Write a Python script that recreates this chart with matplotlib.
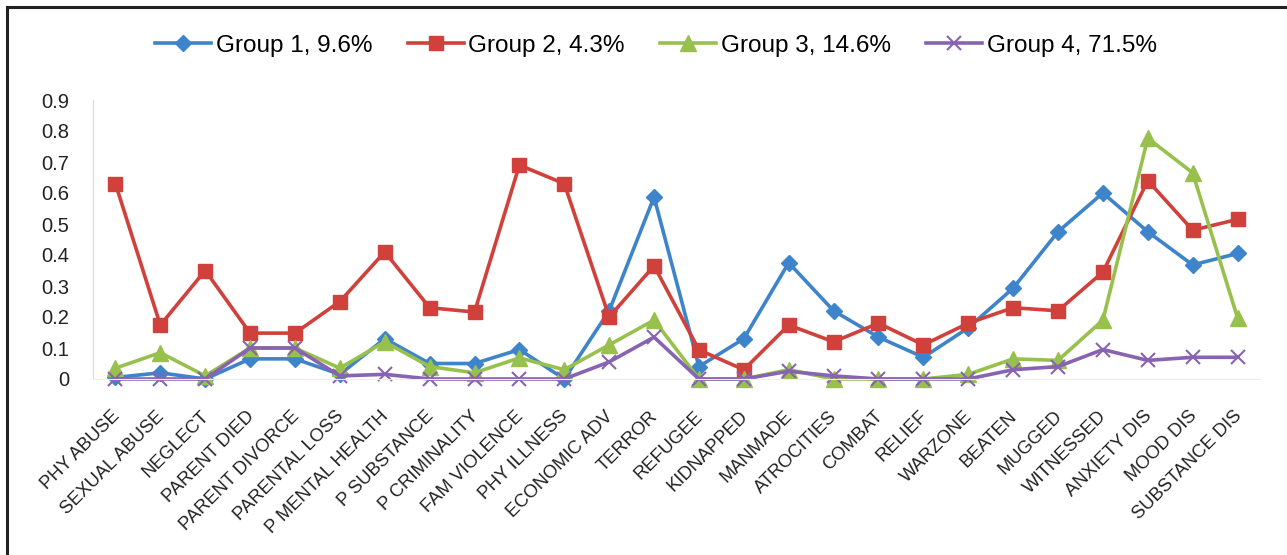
import matplotlib
matplotlib.use("Agg")
import matplotlib.pyplot as plt
from matplotlib.lines import Line2D

categories = ["PHY ABUSE", "SEXUAL ABUSE", "NEGLECT", "PARENT DIED", "PARENT DIVORCE",
              "PARENTAL LOSS", "P MENTAL HEALTH", "P SUBSTANCE", "P CRIMINALITY",
              "FAM VIOLENCE", "PHY ILLNESS", "ECONOMIC ADV", "TERROR", "REFUGEE",
              "KIDNAPPED", "MANMADE", "ATROCITIES", "COMBAT", "RELIEF", "WARZONE",
              "BEATEN", "MUGGED", "WITNESSED", "ANXIETY DIS", "MOOD DIS", "SUBSTANCE DIS"]

group1 = [0.005, 0.02, 0.0, 0.065, 0.065, 0.015, 0.13, 0.05, 0.05, 0.095, 0.0, 0.22, 0.587,
          0.04, 0.13, 0.375, 0.22, 0.135, 0.07, 0.165, 0.293, 0.475, 0.60, 0.475, 0.368, 0.405]
group2 = [0.63, 0.174, 0.35, 0.148, 0.148, 0.25, 0.41, 0.23, 0.216, 0.69, 0.63, 0.20, 0.365,
          0.094, 0.03, 0.174, 0.12, 0.18, 0.11, 0.18, 0.23, 0.22, 0.345, 0.64, 0.48, 0.515]
group3 = [0.035, 0.085, 0.01, 0.10, 0.10, 0.035, 0.12, 0.04, 0.02, 0.068, 0.03, 0.11, 0.19,
          0.0, 0.0, 0.03, 0.0, 0.0, 0.0, 0.015, 0.065, 0.06, 0.19, 0.777, 0.665, 0.197]
group4 = [0.0, 0.0, 0.0, 0.10, 0.10, 0.01, 0.015, 0.0, 0.0, 0.0, 0.0, 0.055, 0.135,
          0.0, 0.0, 0.025, 0.01, 0.0, 0.0, 0.0, 0.03, 0.04, 0.095, 0.06, 0.07, 0.07]

series_names = ["Group 1, 9.6%", "Group 2, 4.3%", "Group 3, 14.6%", "Group 4, 71.5%"]
yticks = [0, 0.1, 0.2, 0.3, 0.4, 0.5, 0.6, 0.7, 0.8, 0.9]
ytick_labels = ["0", "0.1", "0.2", "0.3", "0.4", "0.5", "0.6", "0.7", "0.8", "0.9"]

plt.rcParams['font.family'] = ['Liberation Sans', 'DejaVu Sans']

fig = plt.figure(figsize=(12.87, 5.55), dpi=100)
ax = fig.add_axes([93/1287, 1-379/555, (1260-93)/1287, (379-100)/555])

styles = [
    dict(color='#3E84CB', marker='D', markersize=8),
    dict(color='#D0413B', marker='s', markersize=10),
    dict(color='#98C04C', marker='^', markersize=11),
    dict(color='#8763B2', marker='x', markersize=10, markeredgewidth=1.5),
]
xs = list(range(len(categories)))
for data, name, st in zip([group1, group2, group3, group4], series_names, styles):
    ax.plot(xs, data, linewidth=2.6, label=name, clip_on=False, **st)

ax.set_xlim(-0.5, len(categories) - 0.5)
ax.set_ylim(0, 0.9)
ax.set_yticks(yticks)
ax.set_yticklabels(ytick_labels, fontsize=14.5, color='#222222')
ax.tick_params(axis='y', length=0, pad=17)
ax.set_xticks(xs)
ax.set_xticklabels([])
ax.tick_params(axis='x', length=0)
for i, lab in enumerate(categories):
    ax.annotate(lab, xy=(i, 0), xycoords=('data', 'axes fraction'),
                xytext=(1, -25), textcoords='offset points', rotation=45,
                ha='right', va='center', rotation_mode='anchor', fontsize=13.2,
                color='#222222')

for s in ['top', 'right']:
    ax.spines[s].set_visible(False)
ax.spines['left'].set_color('#D9D9D9')
ax.spines['bottom'].set_color('#EEEEEE')

leg = fig.legend(loc='center', bbox_to_anchor=(656/1287, 1-46/555), ncol=4, frameon=False,
                 fontsize=17.5, handlelength=2.3, handletextpad=0.2, columnspacing=1.45)

# frame lines
fig.add_artist(Line2D([7/1287, 1.0], [1-7/555, 1-7/555], transform=fig.transFigure,
                      color='#222222', linewidth=2.2))
fig.add_artist(Line2D([7/1287, 7/1287], [0, 1-7/555], transform=fig.transFigure,
                      color='#222222', linewidth=2.2))

fig.savefig('out.png', dpi=100)
